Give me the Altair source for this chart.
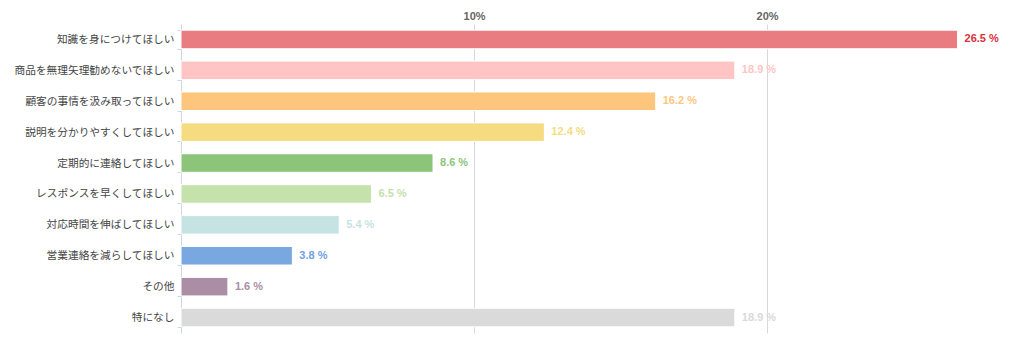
import altair as alt
import pandas as pd

categories = [
    "知識を身につけてほしい",
    "商品を無理矢理勧めないでほしい",
    "顧客の事情を汲み取ってほしい",
    "説明を分かりやすくしてほしい",
    "定期的に連絡してほしい",
    "レスポンスを早くしてほしい",
    "対応時間を伸ばしてほしい",
    "営業連絡を減らしてほしい",
    "その他",
    "特になし",
]
values = [26.5, 18.9, 16.2, 12.4, 8.6, 6.5, 5.4, 3.8, 1.6, 18.9]
bar_colors = ["#e97c80", "#ffc5c5", "#fec67c", "#f6dc80", "#8cc57a",
              "#c5e2ad", "#c6e3e3", "#78a8df", "#ab8da6", "#dadada"]
label_colors = ["#d9303c", "#ffc5c5", "#fec67c", "#f6dc80", "#8cc57a",
                "#c5e2ad", "#c6e3e3", "#6f9fdc", "#ab8da6", "#dadada"]
x_ticks = [10, 20]

df = pd.DataFrame({
    "cat": categories,
    "val": values,
    "label": [f"{v:.1f} %" for v in values],
    "lc": label_colors,
})

font = "Noto Sans CJK JP"
num_font = "Liberation Sans"

base = alt.Chart(df).encode(
    x=alt.X(
        "val:Q", scale=alt.Scale(domain=[0, 28.29], nice=False, zero=True),
        axis=alt.Axis(
            orient="top", title=None, values=x_ticks,
            labelExpr="datum.value + '%'", labelFont=num_font, labelFontSize=11,
            labelFontWeight="bold", labelColor="#666666", labelPadding=3,
            ticks=False, domain=False, grid=True, gridColor="#d8d8d8",
        ),
    ),
    y=alt.Y(
        "cat:N", sort=categories,
        scale=alt.Scale(paddingInner=0.4, paddingOuter=0.2),
        axis=alt.Axis(
            title=None, labelFont=font, labelFontSize=10.7, labelColor="#444444",
            labelPadding=3, tickBand="extent", tickSize=4, tickColor="#ccd6eb",
            domainColor="#ccd6eb", grid=False,
        ),
    ),
)

bars = base.mark_bar(stroke="white", strokeWidth=1).encode(
    color=alt.Color("cat:N", sort=categories,
                    scale=alt.Scale(domain=categories, range=bar_colors),
                    legend=None),
)

texts = base.mark_text(
    align="left", baseline="middle", dx=7, font=num_font, fontSize=11,
    fontWeight="bold",
).encode(
    text="label:N",
    color=alt.Color("lc:N", scale=None, legend=None),
)

chart = alt.layer(bars, texts).properties(
    width=829, height=309,
    background="white",
    autosize=alt.AutoSizeParams(type="none"),
    padding={"left": 181, "top": 24, "right": 14, "bottom": 19},
).configure_view(strokeWidth=0, stroke="transparent")

chart.save("out.html", embed_options={"renderer": "svg", "actions": False})
